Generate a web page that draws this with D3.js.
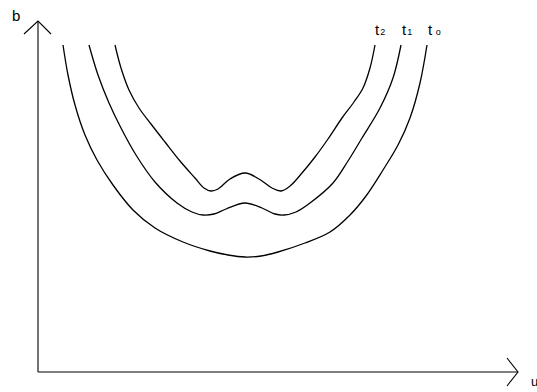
<!DOCTYPE html>
<html>
<head>
<meta charset="utf-8">
<script src="https://cdn.jsdelivr.net/npm/d3@7"></script>
<style>
  html, body { margin: 0; padding: 0; background: #fff; }
  svg { display: block; }
  text { font-family: "Liberation Sans", Arial, sans-serif; fill: #000; }
</style>
</head>
<body>
<svg id="chart" width="537" height="392"></svg>
<script>
// Data: [u, b]
const curveT0 = [[25,327],[30,297],[37,267],[47,237],[59,212],[75,187],[95,162],[117,144],[145,130],[172,121],[190,117],[207,115],[223,116],[240,120],[267,129],[292,140],[312,157],[328,176],[345,202],[360,227],[372,254],[382,289],[389,327]];
const curveT1 = [[51,327],[60,297],[71,269],[83,244],[98,217],[117,190],[139,169],[154,160],[165,157],[176,158],[188,163],[207,169],[224,164],[237,158],[246,157],[258,160],[272,169],[295,189],[310,211],[324,234],[342,264],[355,294],[363,327]];
const curveT2 = [[77,327],[83,304],[91,282],[101,264],[113,248],[127,230],[142,211],[157,194],[166,184],[173,181],[180,183],[192,193],[207,199],[221,193],[234,184],[243,181],[252,186],[264,199],[277,215],[290,233],[304,254],[316,270],[325,284],[332,304],[337,327]];
const curveLabels = [{main:"t", sub:"2", u:337}, {main:"t", sub:"1", u:364}, {main:"t", sub:" o", u:390}];
const axisLabels = {x:"u", y:"b"};

const svg = d3.select("#chart");
const x = d3.scaleLinear().domain([0, 480]).range([38, 518]);
const y = d3.scaleLinear().domain([0, 351]).range([372, 21]);

// axes
svg.append("line").attr("x1", x(0)).attr("y1", y(0)).attr("x2", x(480)).attr("y2", y(0))
  .attr("stroke", "#000").attr("stroke-width", 1.1);
svg.append("line").attr("x1", x(0)).attr("y1", y(0)).attr("x2", x(0)).attr("y2", y(351))
  .attr("stroke", "#000").attr("stroke-width", 1.1);
// arrow heads
svg.append("path").attr("d", `M${x(0)-14},${y(351)+13}L${x(0)},${y(351)}L${x(0)+13},${y(351)+13}`)
  .attr("fill", "none").attr("stroke", "#000").attr("stroke-width", 1.1);
svg.append("path").attr("d", `M${x(480)-11},${y(0)-14}L${x(480)},${y(0)}L${x(480)-11},${y(0)+14}`)
  .attr("fill", "none").attr("stroke", "#000").attr("stroke-width", 1.1);

svg.append("text").attr("x", 12).attr("y", 21).attr("font-size", 15).text(axisLabels.y);
svg.append("text").attr("x", 531).attr("y", 386).attr("font-size", 13).text(axisLabels.x);

const line = d3.line().x(d => x(d[0])).y(d => y(d[1])).curve(d3.curveCatmullRom.alpha(0.5));
[curveT0, curveT1, curveT2].forEach(c => {
  svg.append("path").attr("d", line(c)).attr("fill", "none")
    .attr("stroke", "#000").attr("stroke-width", 1.3);
});

curveLabels.forEach(l => {
  const t = svg.append("text").attr("x", x(l.u)).attr("y", 35).attr("font-size", 15);
  t.append("tspan").text(l.main);
  t.append("tspan").attr("font-size", 9).attr("dx", 1).text(l.sub);
});
</script>
</body>
</html>
